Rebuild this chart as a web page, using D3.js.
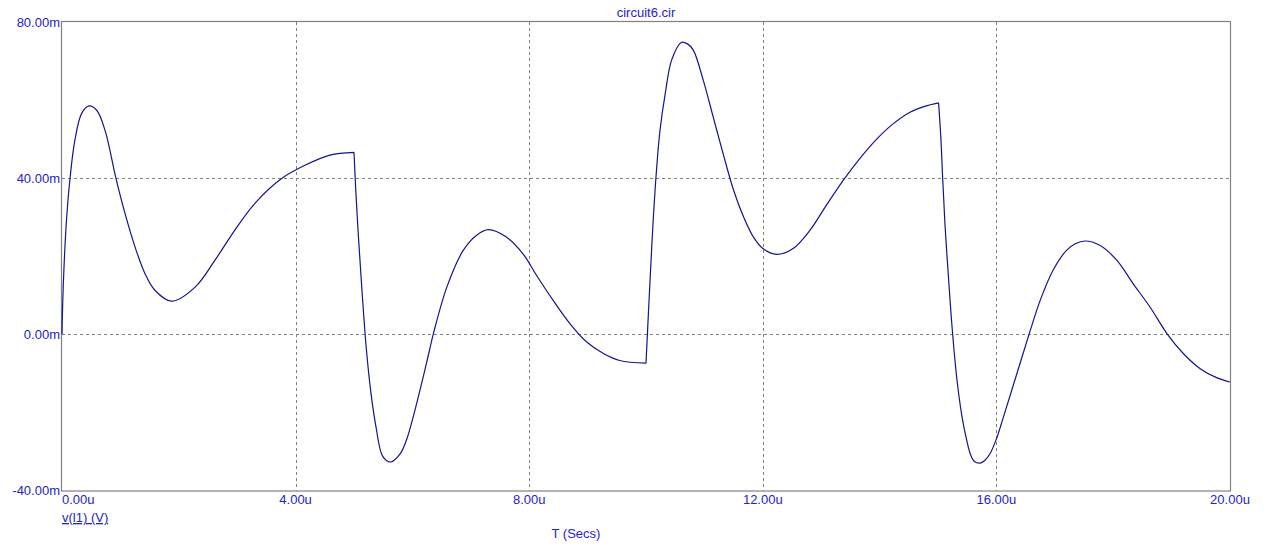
<!DOCTYPE html>
<html><head><meta charset="utf-8">
<script src="https://cdn.jsdelivr.net/npm/d3@7"></script>
<style>
html,body{margin:0;padding:0;background:#fff;}
svg text{font-family:Arial,"Liberation Sans",sans-serif;font-size:13px;fill:#2323c8;}
</style></head>
<body><svg id="c" width="1267" height="553"></svg>
<script>
const timeUs = [0,0.023,0.08,0.137,0.22,0.337,0.462,0.594,0.736,0.925,1.08,1.25,1.42,1.59,1.878,2.28,2.62,2.96,3.30,3.76,4.16,4.59,5.0,
 5.03,5.08,5.14,5.21,5.29,5.38,5.49,5.62,5.79,5.90,6.02,6.24,6.36,6.59,6.87,7.10,7.30,7.61,7.90,8.13,8.41,8.70,8.98,9.27,9.55,10.0,
 10.04,10.08,10.12,10.18,10.24,10.33,10.44,10.61,10.71,10.81,10.98,11.15,11.32,11.50,11.67,11.84,12.0,12.24,12.52,12.81,13.09,13.38,13.66,13.95,14.23,14.52,14.77,15.01,
 15.05,15.08,15.12,15.18,15.24,15.32,15.41,15.49,15.55,15.62,15.72,15.80,15.89,16.0,16.12,16.35,16.58,16.75,16.97,17.20,17.35,17.52,17.77,18.06,18.34,18.63,18.92,19.20,19.49,19.77,20.0];
const voltMv = [0,13,30,39.9,49.7,56.6,58.5,57.4,52.3,39.9,30.9,22.4,15.6,11.3,8.5,12.1,19.0,26.7,33.5,39.9,43.3,45.9,46.6,
 37,24,10.5,-3.5,-15,-24,-31.2,-32.7,-30.6,-27.0,-20.8,-7.5,0.2,12.1,21.5,25.4,26.8,24.9,20.5,15.0,8.7,2.7,-1.9,-4.9,-6.7,-7.4,
 5,17,28.4,42.1,52.3,61.7,70.3,74.8,74.4,72.8,65.1,55.7,46.3,36.9,30.1,24.9,22.0,20.5,22.0,26.7,33.1,39.5,45.0,50.0,53.9,56.9,58.4,59.3,
 50,40,28,14.5,2,-11,-21,-27,-30.5,-32.5,-33.0,-32.3,-30.6,-26.8,-21.2,-10.1,1.0,8.7,16.4,21.5,23.2,23.9,22.8,19.0,13.0,7.0,0.2,-4.9,-8.8,-11.1,-12.2];
// switching instants of the source (sharp corners of the trace)
const edgesUs = [5.0, 10.0, 15.01];
const xTicks = [0,4,8,12,16,20];
const xTickLabels = ["0.00u","4.00u","8.00u","12.00u","16.00u","20.00u"];
const yTicks = [-40,0,40,80];
const yTickLabels = ["-40.00m","0.00m","40.00m","80.00m"];
const title = "circuit6.cir";
const xTitle = "T (Secs)";
const traceName = "v(l1) (V)";

const svg = d3.select("#c");
const L=62,R=1230,T=22,B=490.5;
const x = d3.scaleLinear().domain([0,20]).range([L,R]);
const y = d3.scaleLinear().domain([-40,80]).range([B,T]);

const g = svg.append("g");
xTicks.slice(1,-1).forEach(t=>{
  g.append("line").attr("x1",Math.round(x(t))+0.5).attr("x2",Math.round(x(t))+0.5).attr("y1",T).attr("y2",B)
   .attr("stroke","#808080").attr("stroke-dasharray","3,3").attr("stroke-width",1);
});
yTicks.slice(1,-1).forEach(v=>{
  g.append("line").attr("y1",Math.round(y(v))+0.5).attr("y2",Math.round(y(v))+0.5).attr("x1",L).attr("x2",R)
   .attr("stroke","#808080").attr("stroke-dasharray","3,3").attr("stroke-width",1);
});
svg.append("rect").attr("x",L-0.5).attr("y",T-0.5).attr("width",R-L+1).attr("height",B-T+1)
  .attr("fill","none").attr("stroke","#808080").attr("stroke-width",1.2);

yTicks.forEach((v,i)=>{
  svg.append("text").attr("x",L-2).attr("y",y(v)).attr("dy","0.35em").attr("text-anchor","end").text(yTickLabels[i]);
});
xTicks.forEach((t,i)=>{
  svg.append("text").attr("x",i===0?L:x(t)).attr("y",B+13).attr("text-anchor",i===0?"start":"middle").text(xTickLabels[i]);
});
svg.append("text").attr("x",(L+R)/2).attr("y",17).attr("text-anchor","middle").text(title);
svg.append("text").attr("x",576).attr("y",538).attr("text-anchor","middle").text(xTitle);
svg.append("text").attr("x",L).attr("y",522).attr("text-decoration","underline").text(traceName);

const data = timeUs.map((t,i)=>[t,voltMv[i]]);
const segs = [[]];
data.forEach(d=>{
  segs[segs.length-1].push(d);
  if (edgesUs.some(e=>Math.abs(e-d[0])<1e-9)) segs.push([d]);
});
const line = d3.line().x(d=>x(d[0])).y(d=>y(d[1])).curve(d3.curveCatmullRom.alpha(0.5));
svg.append("path")
  .attr("fill","none").attr("stroke","#14148c").attr("stroke-width",1.2).attr("stroke-linejoin","round")
  .attr("d",segs.map(s=>line(s)).join(""));
</script></body></html>
